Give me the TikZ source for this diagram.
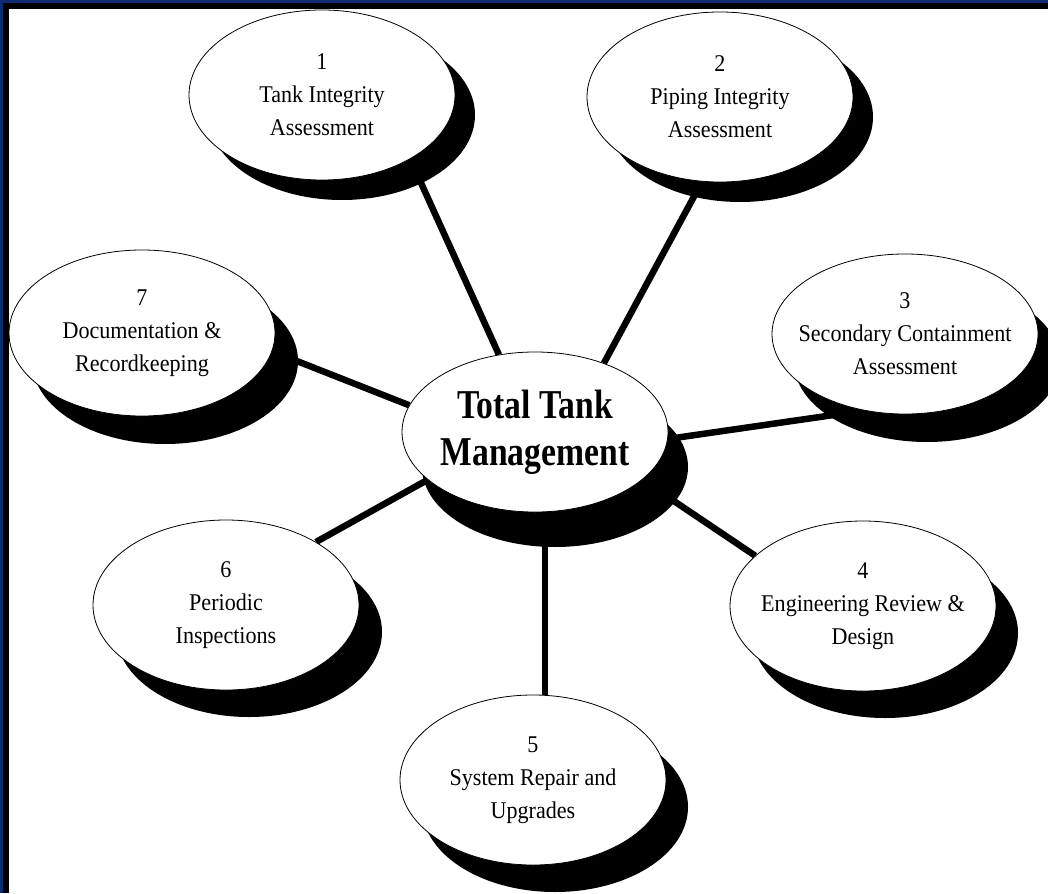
\documentclass[tikz,border=0pt]{standalone}
\usepackage{fontspec}
\setmainfont{Liberation Serif}[FakeStretch=0.92]
\newfontfamily\titlefont{Liberation Serif}[FakeStretch=0.82]
\usetikzlibrary{shapes.geometric, shadows, backgrounds}
\definecolor{frameblue}{RGB}{14,44,112}

\begin{document}
\begin{tikzpicture}[x=1pt, y=-1pt,
    bubble/.style={ellipse, draw, line width=0.8pt, fill=white, inner sep=-15pt,
      minimum width=266pt, minimum height=170pt, align=center,
      font=\fontsize{24}{33}\selectfont},
    dropped/.style 2 args={drop shadow={shadow xshift=#1pt, shadow yshift=-#2pt,
      fill=black, opacity=1}},
    link/.style={line width=6.5pt}]
  \useasboundingbox (0,0) rectangle (1048,893);

  \node[bubble, dropped={20}{35}, minimum height=160pt,
    font=\titlefont\bfseries\fontsize{41}{47}\selectfont] (ttm) at (535,432) {Total Tank\\Management};
  \node[bubble, dropped={20}{20}] (e1) at (322,95) {1\\Tank Integrity\\Assessment};
  \node[bubble, dropped={20}{20}] (e2) at (720,97) {2\\Piping Integrity\\Assessment};
  \node[bubble, dropped={22}{28}, minimum height=160pt] (e3) at (905,334) {3\\Secondary Containment\\Assessment};
  \node[bubble, dropped={22}{27}] (e4) at (863,606) {4\\Engineering Review \&\\Design};
  \node[bubble, dropped={22}{27}] (e5) at (533,780) {5\\System Repair and\\Upgrades};
  \node[bubble, dropped={23}{27}] (e6) at (226,605) {6\\Periodic\\Inspections};
  \node[bubble, dropped={23}{28}, minimum height=166pt] (e7) at (142,333) {7\\Documentation \&\\Recordkeeping};

  \begin{scope}[on background layer]
    \fill[white] (0,0) rectangle (1048,893);
    \draw[link] (ttm.115) -- (e1.-36);
    \draw[link] (ttm.45) -- (e2.-102);
    \draw[link] (ttm.-3) -- (e3.242);
    \draw[link] (ttm.-24) -- (e4.155);
    \draw[link] (ttm.-83) -- (ttm.-83 |- e5.82);
    \draw[link] (ttm.204) -- (e6.35);
    \draw[link] (ttm.168) -- (e7.-8);
  \end{scope}

  \fill[frameblue] (0,0) rectangle (1048,3);
  \fill[frameblue] (0,0) rectangle (3,893);
  \fill[black] (3,3) rectangle (1048,9);
  \fill[black] (3,3) rectangle (9,893);
\end{tikzpicture}
\end{document}
